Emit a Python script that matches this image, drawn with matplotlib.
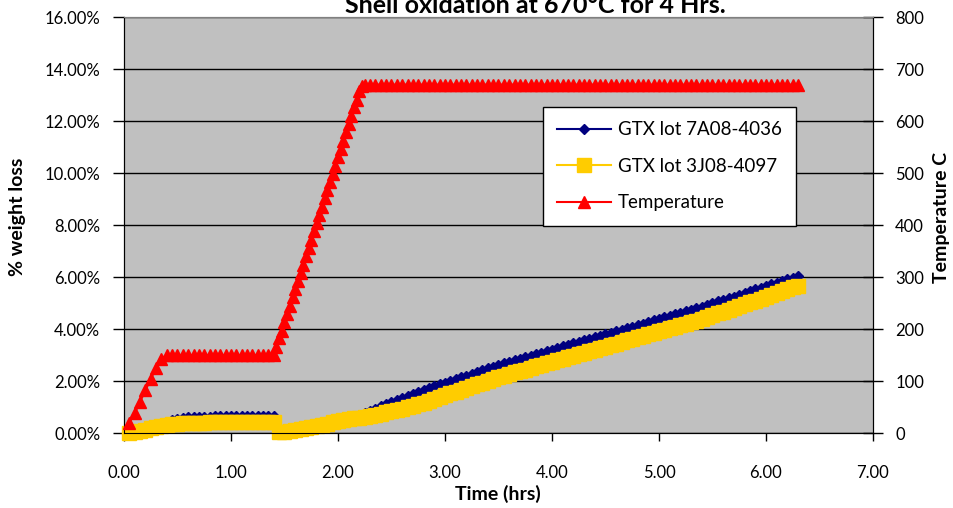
import matplotlib
matplotlib.use("Agg")
import matplotlib.pyplot as plt
from matplotlib.ticker import FuncFormatter

plt.rcParams['font.family'] = ['Lato', 'DejaVu Sans']

# ---------------- data ----------------
time_h = [
    0.05, 0.10, 0.15, 0.20, 0.25, 0.30, 0.35, 0.40, 0.45, 0.50,
    0.55, 0.60, 0.65, 0.70, 0.75, 0.80, 0.85, 0.90, 0.95, 1.00,
    1.05, 1.10, 1.15, 1.20, 1.25, 1.30, 1.35, 1.40, 1.45, 1.50,
    1.55, 1.60, 1.65, 1.70, 1.75, 1.80, 1.85, 1.90, 1.95, 2.00,
    2.05, 2.10, 2.15, 2.20, 2.25, 2.30, 2.35, 2.40, 2.45, 2.50,
    2.55, 2.60, 2.65, 2.70, 2.75, 2.80, 2.85, 2.90, 2.95, 3.00,
    3.05, 3.10, 3.15, 3.20, 3.25, 3.30, 3.35, 3.40, 3.45, 3.50,
    3.55, 3.60, 3.65, 3.70, 3.75, 3.80, 3.85, 3.90, 3.95, 4.00,
    4.05, 4.10, 4.15, 4.20, 4.25, 4.30, 4.35, 4.40, 4.45, 4.50,
    4.55, 4.60, 4.65, 4.70, 4.75, 4.80, 4.85, 4.90, 4.95, 5.00,
    5.05, 5.10, 5.15, 5.20, 5.25, 5.30, 5.35, 5.40, 5.45, 5.50,
    5.55, 5.60, 5.65, 5.70, 5.75, 5.80, 5.85, 5.90, 5.95, 6.00,
    6.05, 6.10, 6.15, 6.20, 6.25, 6.30,
]

loss_7a08 = [
    0.00, 0.03, 0.08, 0.14, 0.20, 0.27, 0.34, 0.42, 0.50, 0.55,
    0.58, 0.60, 0.61, 0.62, 0.63, 0.63, 0.64, 0.64, 0.64, 0.64,
    0.65, 0.65, 0.65, 0.65, 0.65, 0.65, 0.65, 0.64, 0.06, 0.08,
    0.11, 0.14, 0.17, 0.21, 0.25, 0.30, 0.34, 0.39, 0.44, 0.49,
    0.54, 0.59, 0.64, 0.70, 0.78, 0.86, 0.94, 1.02, 1.10, 1.18,
    1.26, 1.34, 1.42, 1.50, 1.58, 1.66, 1.73, 1.80, 1.87, 1.94,
    2.01, 2.08, 2.15, 2.21, 2.28, 2.35, 2.42, 2.49, 2.55, 2.62,
    2.68, 2.74, 2.80, 2.86, 2.92, 2.98, 3.03, 3.09, 3.15, 3.21,
    3.27, 3.33, 3.39, 3.45, 3.51, 3.56, 3.62, 3.68, 3.74, 3.80,
    3.86, 3.92, 3.98, 4.04, 4.09, 4.15, 4.21, 4.27, 4.33, 4.39,
    4.45, 4.51, 4.57, 4.62, 4.68, 4.74, 4.80, 4.86, 4.93, 4.99,
    5.06, 5.12, 5.19, 5.25, 5.32, 5.39, 5.45, 5.52, 5.58, 5.65,
    5.72, 5.78, 5.85, 5.91, 5.98, 6.02,
]

loss_3j08 = [
    0.00, 0.03, 0.08, 0.13, 0.18, 0.23, 0.27, 0.30, 0.33, 0.36,
    0.37, 0.38, 0.39, 0.40, 0.40, 0.41, 0.41, 0.41, 0.42, 0.42,
    0.42, 0.42, 0.42, 0.43, 0.43, 0.43, 0.43, 0.43, 0.03, 0.05,
    0.08, 0.11, 0.14, 0.18, 0.22, 0.27, 0.31, 0.36, 0.41, 0.45,
    0.49, 0.53, 0.56, 0.59, 0.62, 0.66, 0.70, 0.74, 0.79, 0.84,
    0.89, 0.94, 0.99, 1.04, 1.10, 1.17, 1.24, 1.31, 1.38, 1.45,
    1.52, 1.59, 1.66, 1.73, 1.80, 1.87, 1.94, 2.01, 2.08, 2.15,
    2.21, 2.27, 2.33, 2.38, 2.44, 2.50, 2.56, 2.62, 2.68, 2.74,
    2.80, 2.85, 2.91, 2.97, 3.03, 3.09, 3.15, 3.21, 3.27, 3.32,
    3.38, 3.44, 3.50, 3.56, 3.62, 3.68, 3.73, 3.79, 3.85, 3.91,
    3.97, 4.03, 4.09, 4.15, 4.20, 4.26, 4.32, 4.38, 4.45, 4.52,
    4.60, 4.67, 4.74, 4.81, 4.88, 4.95, 5.02, 5.09, 5.17, 5.24,
    5.31, 5.38, 5.45, 5.52, 5.60, 5.67,
]

temp_time_h = [
    0.05, 0.10, 0.15, 0.20, 0.25, 0.30, 0.35, 0.40, 0.45, 0.50,
    0.55, 0.60, 0.65, 0.70, 0.75, 0.80, 0.85, 0.90, 0.95, 1.00,
    1.05, 1.10, 1.15, 1.20, 1.25, 1.30, 1.35, 1.40,
    1.425, 1.45, 1.475, 1.50, 1.525, 1.55, 1.575, 1.60, 1.625, 1.65,
    1.675, 1.70, 1.725, 1.75, 1.775, 1.80, 1.825, 1.85, 1.875, 1.90,
    1.925, 1.95, 1.975, 2.00, 2.025, 2.05, 2.075, 2.10, 2.125, 2.15,
    2.175, 2.20, 2.225,
    2.25, 2.30, 2.35, 2.40, 2.45, 2.50, 2.55, 2.60, 2.65, 2.70,
    2.75, 2.80, 2.85, 2.90, 2.95, 3.00, 3.05, 3.10, 3.15, 3.20,
    3.25, 3.30, 3.35, 3.40, 3.45, 3.50, 3.55, 3.60, 3.65, 3.70,
    3.75, 3.80, 3.85, 3.90, 3.95, 4.00, 4.05, 4.10, 4.15, 4.20,
    4.25, 4.30, 4.35, 4.40, 4.45, 4.50, 4.55, 4.60, 4.65, 4.70,
    4.75, 4.80, 4.85, 4.90, 4.95, 5.00, 5.05, 5.10, 5.15, 5.20,
    5.25, 5.30, 5.35, 5.40, 5.45, 5.50, 5.55, 5.60, 5.65, 5.70,
    5.75, 5.80, 5.85, 5.90, 5.95, 6.00, 6.05, 6.10, 6.15, 6.20,
    6.25, 6.30,
]

temperature_c = [
    20, 38, 60, 82, 104, 125, 143, 150, 150, 150,
    150, 150, 150, 150, 150, 150, 150, 150, 150, 150,
    150, 150, 150, 150, 150, 150, 150, 150,
    166, 182, 197, 213, 229, 245, 261, 277, 292, 308,
    324, 340, 356, 372, 388, 404, 419, 435, 451, 467,
    483, 499, 514, 530, 546, 562, 578, 594, 610, 626,
    641, 657, 668,
    670, 670, 670, 670, 670, 670, 670, 670, 670, 670,
    670, 670, 670, 670, 670, 670, 670, 670, 670, 670,
    670, 670, 670, 670, 670, 670, 670, 670, 670, 670,
    670, 670, 670, 670, 670, 670, 670, 670, 670, 670,
    670, 670, 670, 670, 670, 670, 670, 670, 670, 670,
    670, 670, 670, 670, 670, 670, 670, 670, 670, 670,
    670, 670, 670, 670, 670, 670, 670, 670, 670, 670,
    670, 670, 670, 670, 670, 670, 670, 670, 670, 670,
    670, 670,
]

x_ticks = [0, 1, 2, 3, 4, 5, 6, 7]
left_ticks = [0, 2, 4, 6, 8, 10, 12, 14, 16]
right_ticks = [0, 100, 200, 300, 400, 500, 600, 700, 800]

series_labels = ["GTX lot 7A08-4036", "GTX lot 3J08-4097", "Temperature"]

# ---------------- figure ----------------
W, H = 954, 508
fig = plt.figure(figsize=(W / 100, H / 100), dpi=100)
L, R, T, B = 124, 873, 17, 433
ax = fig.add_axes([L / W, 1 - B / H, (R - L) / W, (B - T) / H])
ax2 = ax.twinx()

ax.set_facecolor('#C0C0C0')
ax.set_xlim(0, 7)
ax.set_ylim(0, 16)
ax2.set_ylim(0, 800)

ax.set_xticks(x_ticks)
ax.xaxis.set_major_formatter(FuncFormatter(lambda v, p: f"{v:.2f}"))
ax.set_yticks(left_ticks)
ax.yaxis.set_major_formatter(FuncFormatter(lambda v, p: f"{v:.2f}%"))
ax2.set_yticks(right_ticks)

ax.grid(axis='y', color='black', linewidth=1.0)
ax.grid(axis='x', visible=False)
ax.set_axisbelow(True)

fs = 12
ax.tick_params(axis='x', direction='out', length=6, width=1, pad=17, labelsize=fs)
ax.tick_params(axis='y', direction='out', length=8, width=1, pad=9, labelsize=fs)
ax2.tick_params(axis='y', direction='inout', length=14, width=1, pad=9, labelsize=fs)

for a in (ax, ax2):
    a.spines['top'].set_color('#808080')
    for s in ['left', 'bottom', 'right']:
        a.spines[s].set_color('black')

l1, = ax.plot(time_h, loss_7a08, color='#000080', lw=1.5, marker='D',
              markersize=5.5, markeredgecolor='#000080', clip_on=False,
              label=series_labels[0], zorder=3)
l2, = ax.plot(time_h, loss_3j08, color='#FFCC00', lw=1.5, marker='s',
              markersize=10, markeredgecolor='#FFCC00', clip_on=False,
              label=series_labels[1], zorder=4)
l3, = ax2.plot(temp_time_h, temperature_c, color='#FF0000', lw=1.5, marker='^',
               markersize=8, markeredgecolor='#FF0000', clip_on=False,
               label=series_labels[2], zorder=5)

lab_fs = 14
ax.set_xlabel("Time (hrs)", fontsize=lab_fs, fontweight='bold')
ax.xaxis.label.set_verticalalignment('center')
ax.xaxis.set_label_coords((498 - L) / (R - L), (B - 494) / (B - T))

ax.set_ylabel("% weight loss", fontsize=lab_fs, fontweight='bold')
ax.yaxis.label.set_verticalalignment('center')
ax.yaxis.label.set_horizontalalignment('center')
ax.yaxis.set_label_coords((17 - L) / (R - L), (B - 217) / (B - T))

ax2.set_ylabel("Temperature C", fontsize=lab_fs, fontweight='bold')
ax2.yaxis.label.set_verticalalignment('center')
ax2.yaxis.label.set_horizontalalignment('center')
ax2.yaxis.set_label_coords((942 - L) / (R - L), (B - 217) / (B - T))

fig.text(535 / W, 1 - 13 / H, "Shell oxidation at 670°C for 4 Hrs.",
         ha='center', va='baseline', fontsize=18, fontweight='bold')

leg = ax2.legend(handles=[l1, l2, l3], loc='upper left',
                 bbox_to_anchor=(543 / W, 1 - 107 / H),
                 bbox_transform=fig.transFigure, fontsize=13.5,
                 frameon=True, fancybox=False, edgecolor='black',
                 framealpha=1, facecolor='white', borderaxespad=0,
                 handlelength=2.9, handletextpad=0.35, labelspacing=1.05,
                 borderpad=0.75)
leg.get_frame().set_linewidth(1.0)

fig.savefig("out.png", dpi=100)
